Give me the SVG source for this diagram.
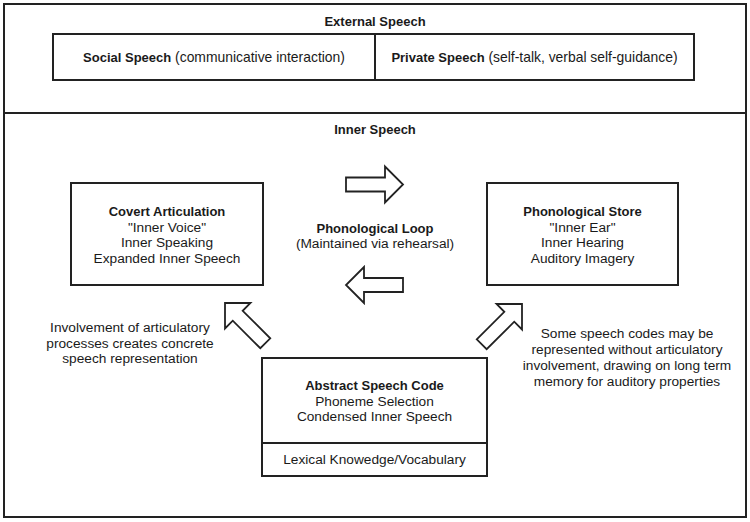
<svg xmlns="http://www.w3.org/2000/svg" width="750" height="522" viewBox="0 0 750 522">
<defs>
<style>
.box{fill:#fff;stroke:#222;stroke-width:2}
.ln{fill:none;stroke:#222;stroke-width:2}
.arr{fill:#fff;stroke:#222;stroke-width:1.8;stroke-linejoin:miter}
text{font-family:"Liberation Sans",Arial,Helvetica,sans-serif;font-size:13.7px;fill:#1a1a1a;text-anchor:middle}
.top{font-size:13.9px}
.b{font-weight:bold;font-size:13px}
</style>
<polygon id="arrowShape" points="-57,-7 -18,-7 -18,-18 0,0 -18,18 -18,7 -57,7"/>
</defs>
<rect width="750" height="522" fill="#fff"/>
<g id="frame">
<rect class="box" x="4" y="4" width="742" height="513"/>
<line class="ln" x1="4" y1="113" x2="746" y2="113"/>
</g>
<g id="external-speech">
<text class="b" x="375" y="26">External Speech</text>
<rect class="box" x="53" y="34" width="641" height="46"/>
<line class="ln" x1="375" y1="34" x2="375" y2="80"/>
<text class="top" x="214" y="62"><tspan class="b">Social Speech</tspan> (communicative interaction)</text>
<text class="top" x="534.5" y="62"><tspan class="b">Private Speech</tspan> (self-talk, verbal self-guidance)</text>
</g>
<g id="inner-speech-title">
<text class="b" x="375" y="134">Inner Speech</text>
</g>
<g id="covert-articulation">
<rect class="box" x="71" y="183" width="192" height="102"/>
<text class="b" x="167" y="216">Covert Articulation</text>
<text x="167" y="231.5">"Inner Voice"</text>
<text x="167" y="247">Inner Speaking</text>
<text x="167" y="262.5">Expanded Inner Speech</text>
</g>
<g id="phonological-store">
<rect class="box" x="487" y="183" width="191" height="102"/>
<text class="b" x="582.5" y="216">Phonological Store</text>
<text x="582.5" y="231.5">"Inner Ear"</text>
<text x="582.5" y="247">Inner Hearing</text>
<text x="582.5" y="262.5">Auditory Imagery</text>
</g>
<g id="phonological-loop">
<text class="b" x="375" y="233">Phonological Loop</text>
<text x="375" y="248">(Maintained via rehearsal)</text>
</g>
<g id="abstract-speech-code">
<rect class="box" x="262" y="358" width="225" height="118"/>
<line class="ln" x1="262" y1="443" x2="487" y2="443"/>
<text class="b" x="374.5" y="390">Abstract Speech Code</text>
<text x="374.5" y="405.5">Phoneme Selection</text>
<text x="374.5" y="421">Condensed Inner Speech</text>
<text x="374.5" y="464">Lexical Knowedge/Vocabulary</text>
</g>
<g id="note-left">
<text x="130" y="332">Involvement of articulatory</text>
<text x="130" y="347.5">processes creates concrete</text>
<text x="130" y="363">speech representation</text>
</g>
<g id="note-right">
<text x="627" y="338">Some speech codes may be</text>
<text x="627" y="354">represented without articulatory</text>
<text x="627" y="370">involvement, drawing on long term</text>
<text x="627" y="386">memory for auditory properties</text>
</g>
<g id="connectors">
<use href="#arrowShape" class="arr" transform="translate(403,184.5)"/>
<use href="#arrowShape" class="arr" transform="translate(346,285) rotate(180)"/>
<use href="#arrowShape" class="arr" transform="translate(225,303) rotate(225)"/>
<use href="#arrowShape" class="arr" transform="translate(522,304) rotate(-45)"/>
</g>
</svg>
